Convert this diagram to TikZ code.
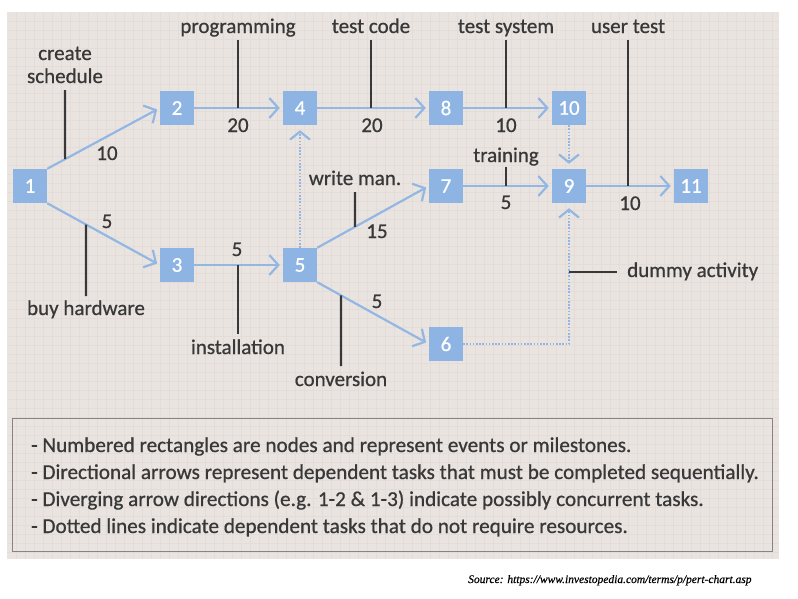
\documentclass[tikz,border=0pt]{standalone}
\usepackage{fontspec}
\setmainfont{Carlito}[FakeBold=0.7]
\newfontfamily\srcfont{Liberation Serif}[FakeBold=0.5]
\usetikzlibrary{arrows.meta,calc}
\definecolor{bgc}{HTML}{EAE4E1}
\definecolor{gridc}{HTML}{E3DCD8}
\definecolor{nodeblue}{HTML}{8EB4E3}
\definecolor{arrblue}{HTML}{93B7E3}
\definecolor{txt}{HTML}{383838}
\definecolor{legborder}{HTML}{8A8282}
\tikzset{
  ev/.style={fill=nodeblue, minimum width=34pt, minimum height=34pt, inner sep=0pt, text=white, font=\fontsize{21}{23}\selectfont},
  arr/.style={draw=arrblue, line width=2.2pt, -{Straight Barb[length=9pt,width=20pt]}, shorten >=3pt},
  dotarr/.style={draw=arrblue, line width=2.2pt, dash pattern=on 1.6pt off 1.6pt, -{Straight Barb[length=8pt,width=20pt]}, shorten >=5pt},
  tick/.style={draw=txt, line width=2.2pt},
  lbl/.style={text=txt, inner sep=0pt, anchor=base, font=\fontsize{21}{23}\selectfont},
  leglbl/.style={text=txt, inner sep=0pt, anchor=base west, font=\fontsize{21.2}{23}\selectfont},
}
\begin{document}
\begin{tikzpicture}[x=1pt,y=-1pt]
\useasboundingbox (0,0) rectangle (798,598);
\fill[white] (0,0) rectangle (798,598);
\fill[bgc] (7,12) rectangle (779,559);
\foreach \x in {16,25,...,778} \draw[gridc, line width=0.5pt] (\x,12) -- (\x,559);
\foreach \y in {21,30,...,558} \draw[gridc, line width=0.5pt] (7,\y) -- (779,\y);

% events
\node[ev] (n1) at (30,186) {1};
\node[ev] (n2) at (177,108) {2};
\node[ev] (n3) at (177,265) {3};
\node[ev] (n4) at (300,108) {4};
\node[ev] (n5) at (300,265) {5};
\node[ev] (n6) at (446,344) {6};
\node[ev] (n7) at (446,186) {7};
\node[ev] (n8) at (446,108) {8};
\node[ev] (n9) at (569,186) {9};
\node[ev] (n10) at (569,108) {10};
\node[ev] (n11) at (691,186) {11};

% tasks
\draw[arr] (n1.north east) -- coordinate[pos=0.159] (c12) (n2.west);
\draw[arr] (n1.south east) -- coordinate[pos=0.345] (c13) (n3.west);
\draw[arr] (n2) -- (n4);
\draw[arr] (n3) -- (n5);
\draw[arr] (n4) -- (n8);
\draw[arr] (n8) -- (n10);
\draw[arr] (n5.north east) -- coordinate[pos=0.339] (c57) (n7.west);
\draw[arr] (n5.south east) -- coordinate[pos=0.214] (c56) (n6.west);
\draw[arr] (n7) -- (n9);
\draw[arr] (n9) -- (n11);

% dummy activities
\draw[dotarr] (n5.north) -- (n4.south);
\draw[dotarr] (n10.south) -- (n9.north);
\draw[dotarr] (n6.east) -| (n9.south);

% labels
\node[lbl] (lcs1) at (65,60) {create};
\node[lbl] (lcs2) at (65,83) {schedule};
\node[lbl] (lprog) at (238,33) {programming};
\node[lbl] (ltc) at (371,33) {test code};
\node[lbl] (lts) at (506,33) {test system};
\node[lbl] (lut) at (628,33) {user test};
\node[lbl] (ltr) at (506,162) {training};
\node[lbl] (lwm) at (355,185) {write man.};
\node[lbl] (lbh) at (86,315) {buy hardware};
\node[lbl] (lin) at (238,354) {installation};
\node[lbl] (lco) at (341,386) {conversion};
\node[lbl, anchor=base west] (ldm) at (627,277) {dummy activity};

% durations
\node[lbl] (d12) at (107,160) {10};
\node[lbl] (d13) at (107,228) {5};
\node[lbl] (d24) at (238,132) {20};
\node[lbl] (d35) at (237,256) {5};
\node[lbl] (d48) at (372,132) {20};
\node[lbl] (d810) at (506,132) {10};
\node[lbl] (d57) at (377,238) {15};
\node[lbl] (d79) at (506,209) {5};
\node[lbl] (d56) at (377,308) {5};
\node[lbl] (d911) at (630,210) {10};

% ticks
\coordinate (tcs) at (65,90);
\coordinate (tprog) at (238,40);
\coordinate (ttc) at (371,40);
\coordinate (tts) at (506,40);
\coordinate (tut) at (628,40);
\coordinate (ttr) at (506,167);
\coordinate (twm) at (355,192);
\coordinate (tbh) at (86,296);
\coordinate (tin) at (238,334);
\coordinate (tco) at (341,366);
\coordinate (tdm) at (569,272);
\coordinate (tdme) at (617,272);
\draw[tick] (tcs) -- (c12);
\draw[tick] (tprog) -- (tprog |- n2);
\draw[tick] (ttc) -- (ttc |- n4);
\draw[tick] (tts) -- (tts |- n8);
\draw[tick] (tut) -- (tut |- n9);
\draw[tick] (ttr) -- (ttr |- n7);
\draw[tick] (twm) -- (c57);
\draw[tick] (tbh) -- (c13);
\draw[tick] (tin) -- (tin |- n3);
\draw[tick] (tco) -- (c56);
\draw[tick] (tdm) -- (tdme);

% legend
\node[draw=legborder, line width=1.2pt, minimum width=760pt, minimum height=133pt, inner sep=0pt, anchor=north west] (leg) at (12,418) {};
\node[leglbl] (lg1) at (31,452) {- Numbered rectangles are nodes and represent events or milestones.};
\node[leglbl] (lg2) at (31,479) {- Directional arrows represent dependent tasks that must be completed sequentially.};
\node[leglbl] (lg3) at (31,506) {- Diverging arrow directions (e.g. 1-2 \& 1-3) indicate possibly concurrent tasks.};
\node[leglbl] (lg4) at (31,533) {- Dotted lines indicate dependent tasks that do not require resources.};

% source
\node[inner sep=0pt, anchor=base west, font=\srcfont\itshape\fontsize{11.5}{13}\selectfont] (src) at (468,583) {Source: https://www.investopedia.com/terms/p/pert-chart.asp};
\end{tikzpicture}
\end{document}
